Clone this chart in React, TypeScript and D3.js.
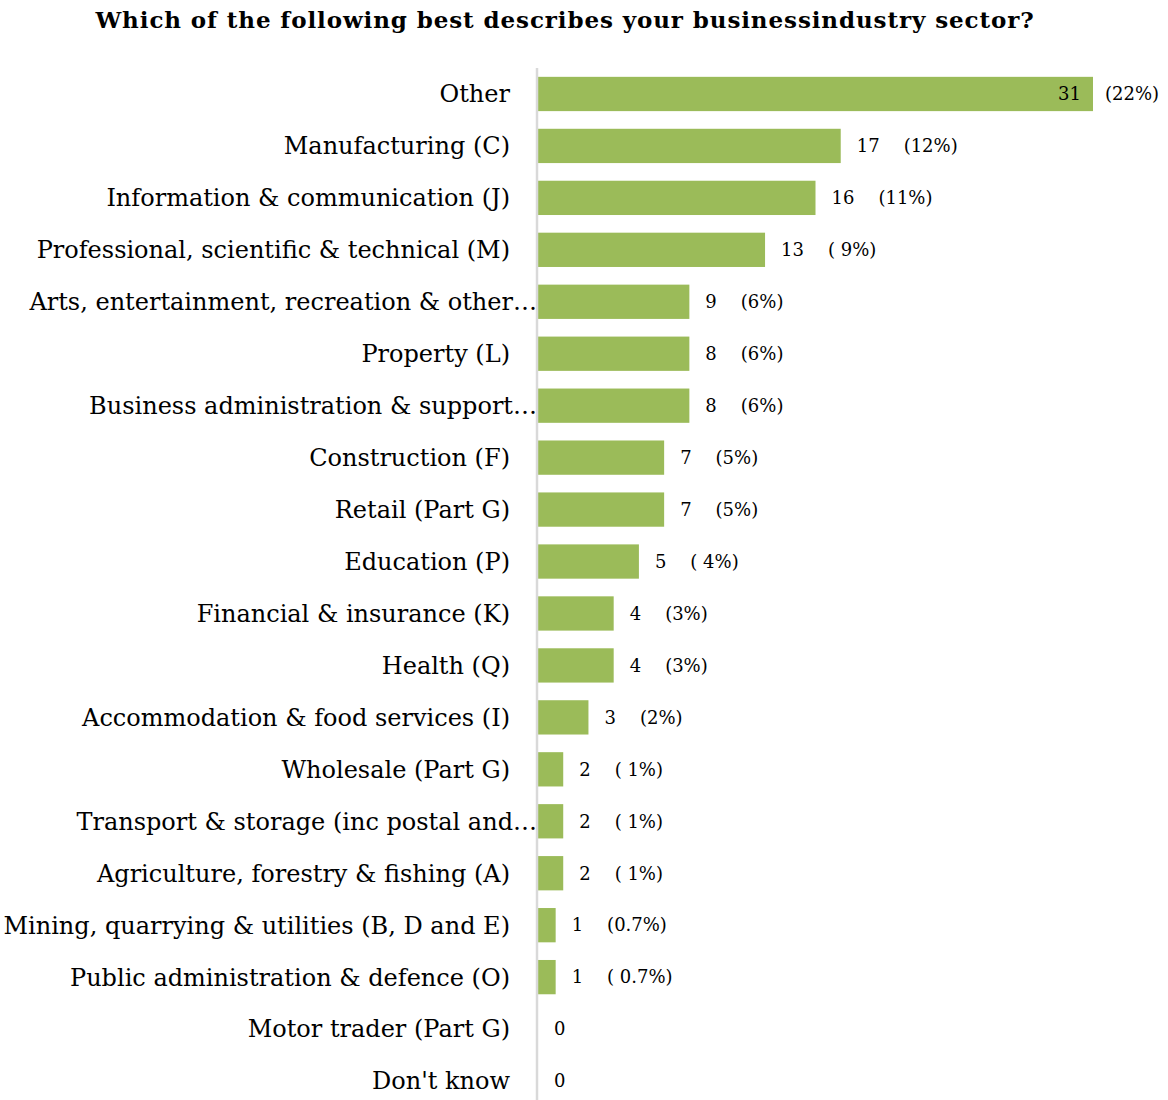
import React from "react";
import * as d3 from "d3";

const categories: string[] = [
  "Other",
  "Manufacturing (C)",
  "Information & communication (J)",
  "Professional, scientific & technical (M)",
  "Arts, entertainment, recreation & other…",
  "Property (L)",
  "Business administration & support…",
  "Construction (F)",
  "Retail (Part G)",
  "Education (P)",
  "Financial & insurance (K)",
  "Health (Q)",
  "Accommodation & food services (I)",
  "Wholesale (Part G)",
  "Transport & storage (inc postal and…",
  "Agriculture, forestry & fishing (A)",
  "Mining, quarrying & utilities (B, D and E)",
  "Public administration & defence (O)",
  "Motor trader (Part G)",
  "Don't know",
];

const counts: number[] = [31, 17, 16, 13, 9, 8, 8, 7, 7, 5, 4, 4, 3, 2, 2, 2, 1, 1, 0, 0];

const shares: number[] = [22, 12, 11, 9, 6, 6, 6, 5, 5, 4, 3, 3, 2, 1, 1, 1, 0.7, 0.7, 0, 0];

const shareLabels: string[] = [
  "(22%)", "(12%)", "(11%)", "( 9%)", "(6%)", "(6%)", "(6%)", "(5%)", "(5%)", "( 4%)",
  "(3%)", "(3%)", "(2%)", "( 1%)", "( 1%)", "( 1%)", "(0.7%)", "( 0.7%)", "", "",
];

const title = "Which of the following best describes your businessindustry sector?";

const W = 1168;
const H = 1100;
const axisX = 537;
const FONT = "'DejaVu Serif', serif";

export default function App() {
  const maxShare = d3.max(shares) as number;
  const x = d3.scaleLinear().domain([0, maxShare]).range([538, 1093]);
  const y = d3
    .scaleBand<string>()
    .domain(categories)
    .range([68, 1107])
    .paddingInner(0.34)
    .paddingOuter(0.17);

  return (
    <svg
      width={W}
      height={H}
      style={{ position: "absolute", left: 0, top: 0, background: "#fff" }}
      fontFamily={FONT}
    >
      <text
        x={565}
        y={28}
        textAnchor="middle"
        fontSize={23}
        fontWeight="bold"
        letterSpacing={0.9}
        fill="#000"
      >
        {title}
      </text>
      {categories.map((c, i) => {
        const v = counts[i];
        const s = shares[i];
        const cy = (y(c) as number) + y.bandwidth() / 2;
        const x1 = x(s);
        const trunc = c.endsWith("…");
        const isMax = s === maxShare;
        return (
          <g key={c}>
            <rect
              x={x(0)}
              y={y(c)}
              width={Math.max(0, x1 - x(0))}
              height={y.bandwidth()}
              fill="#9BBB59"
            />
            <text
              x={trunc ? axisX : 510}
              y={cy}
              dy="0.35em"
              textAnchor="end"
              fontSize={24}
              fill="#000"
            >
              {c}
            </text>
            {isMax ? (
              <>
                <text x={x1 - 12} y={cy} dy="0.35em" textAnchor="end" fontSize={18} fill="#000">
                  {v}
                </text>
                <text x={x1 + 12} y={cy} dy="0.35em" fontSize={18} fill="#000" style={{ whiteSpace: "pre" }}>
                  {shareLabels[i]}
                </text>
              </>
            ) : (
              <text x={x1 + 16} y={cy} dy="0.35em" fontSize={18} fill="#000" style={{ whiteSpace: "pre" }}>
                <tspan>{v}</tspan>
                {shareLabels[i] ? <tspan dx={24}>{shareLabels[i]}</tspan> : null}
              </text>
            )}
          </g>
        );
      })}
      <line x1={axisX} x2={axisX} y1={68} y2={H} stroke="#d9d9d9" strokeWidth={2.5} />
    </svg>
  );
}
